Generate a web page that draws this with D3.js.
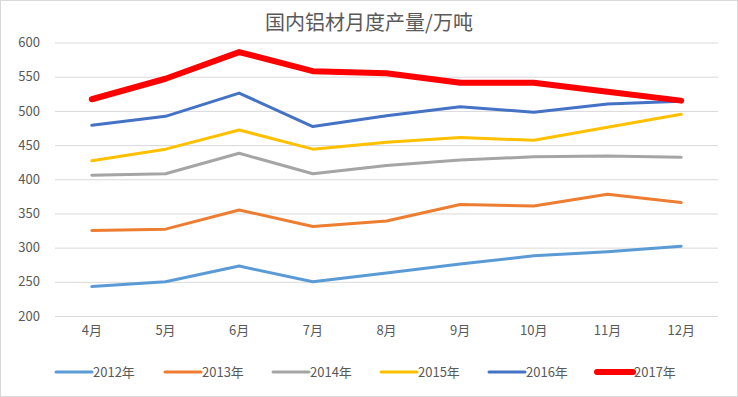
<!DOCTYPE html>
<html><head><meta charset="utf-8">
<script src="https://cdn.jsdelivr.net/npm/d3@7/dist/d3.min.js"></script>
<style>body{margin:0;background:#fff}svg{display:block}text{font-family:"Noto Sans CJK SC","Noto Sans",sans-serif}</style>
</head><body><svg id="c" width="738" height="397"></svg>
<script>
const title = "国内铝材月度产量/万吨";
const months = ["4月","5月","6月","7月","8月","9月","10月","11月","12月"];
const yTicks = [200,250,300,350,400,450,500,550,600];
const seriesNames = ["2012年","2013年","2014年","2015年","2016年","2017年"];
const s2012 = [243,250,273,250,263,276,288,294,302];
const s2013 = [325,327,355,331,339,363,361,378,366];
const s2014 = [406,408,438,408,420,428,433,434,432];
const s2015 = [427,444,472,444,454,461,457,476,495];
const s2016 = [479,492,526,477,493,506,498,510,514];
const s2017 = [517,547,586,558,555,541,541,528,515];
const colors = ["#5B9BD5","#ED7D31","#A5A5A5","#FFC000","#4472C4","#FF0000"];
const widths = [3,3,3,3,3,6];
const allSeries = [s2012,s2013,s2014,s2015,s2016,s2017];

const svg = d3.select("#c");
svg.append("rect").attr("x",0.5).attr("y",0.5).attr("width",737).attr("height",396)
  .attr("fill","#fff").attr("stroke","#d9d9d9");

const pLeft=55, pRight=718, pTop=42.5, pBottom=316;
const x = d3.scaleBand().domain(months).range([pLeft,pRight]);
const y = d3.scaleLinear().domain([200,600]).range([pBottom,pTop]);

svg.append("text").attr("x",369).attr("y",30).attr("text-anchor","middle")
  .attr("font-size",20).attr("fill","#595959").text(title);

const gy = svg.append("g").attr("transform",`translate(${pLeft},0)`)
  .call(d3.axisLeft(y).tickValues(yTicks).tickSize(-(pRight-pLeft)).tickPadding(15));
gy.select(".domain").remove();
gy.selectAll(".tick line").attr("stroke","#d9d9d9");
gy.selectAll(".tick text").attr("fill","#595959").attr("font-size",13);

const gx = svg.append("g").attr("transform",`translate(0,${pBottom})`)
  .call(d3.axisBottom(x).tickSize(0).tickPadding(10));
gx.select(".domain").remove();
gx.selectAll(".tick text").attr("fill","#595959").attr("font-size",13);

const line = d3.line().x((d,i)=>x(months[i])+x.bandwidth()/2).y(d=>y(d));
allSeries.forEach((s,k)=>{
  svg.append("path").datum(s).attr("d",line).attr("fill","none")
    .attr("stroke",colors[k]).attr("stroke-width",widths[k])
    .attr("stroke-linejoin","round").attr("stroke-linecap","round");
});

const legX = [56,165,273,381,489,597];
const lg = svg.append("g");
seriesNames.forEach((n,k)=>{
  lg.append("line").attr("x1",legX[k]).attr("x2",legX[k]+36).attr("y1",372).attr("y2",372)
    .attr("stroke",colors[k]).attr("stroke-width",widths[k]).attr("stroke-linecap","round");
  lg.append("text").attr("x",legX[k]+37).attr("y",377).attr("font-size",13)
    .attr("fill","#595959").text(n);
});
</script></body></html>
